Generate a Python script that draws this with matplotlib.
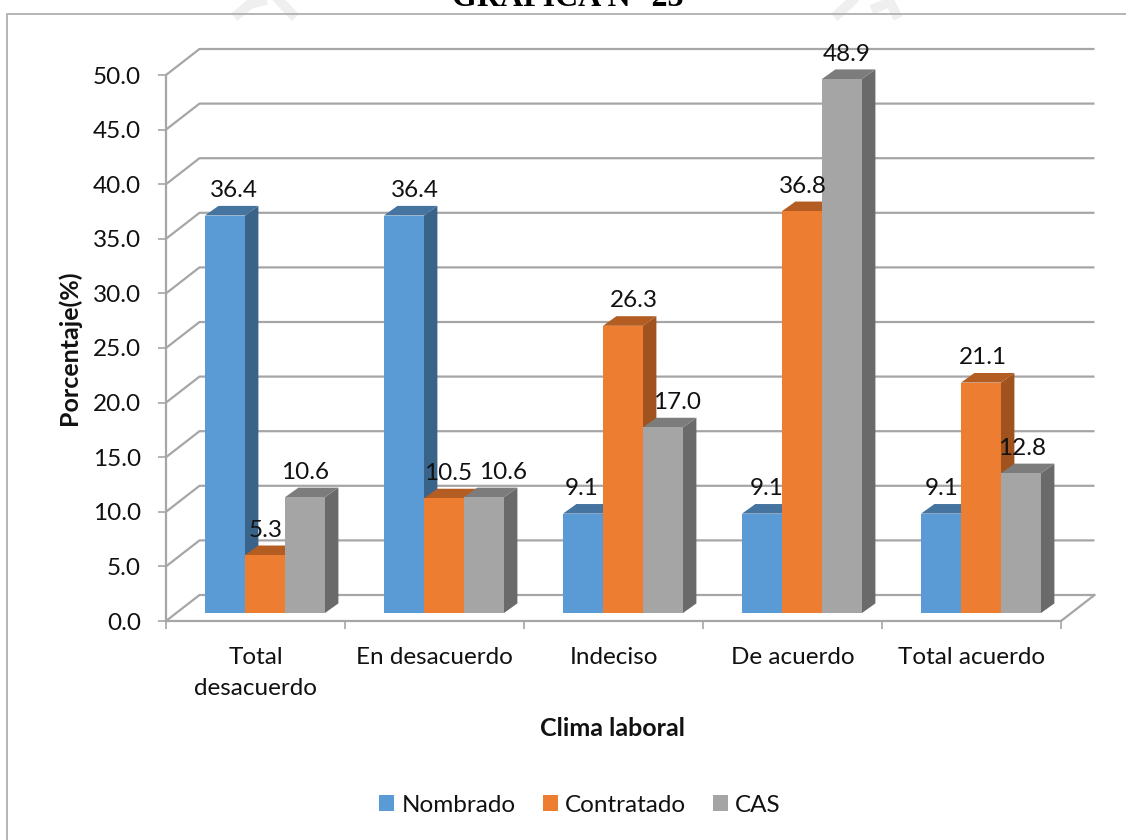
import matplotlib
matplotlib.use('Agg')
import matplotlib.pyplot as plt
from matplotlib.lines import Line2D
from matplotlib.patches import Patch, Polygon
from matplotlib.ticker import FormatStrFormatter
import numpy as np

categories = ['Total\ndesacuerdo', 'En desacuerdo', 'Indeciso', 'De acuerdo', 'Total acuerdo']
nombrado = [36.4, 36.4, 9.1, 9.1, 9.1]
contratado = [5.3, 10.5, 26.3, 36.8, 21.1]
cas = [10.6, 10.6, 17.0, 48.9, 12.8]
y_ticks = [0, 5, 10, 15, 20, 25, 30, 35, 40, 45, 50]

series = [
    ('Nombrado', nombrado, '#5B9BD5', '#44749F', '#3A6389'),
    ('Contratado', contratado, '#ED7D31', '#B35D23', '#A0531F'),
    ('CAS', cas, '#A5A5A5', '#7C7C7C', '#6A6A6A'),
]

# horizontal nudge of each value label, in pixels
label_nudge = [
    [9, 11, -1, 5, 1],
    [1, 4, 11, 1, 2],
    [0, 19, 14, 5, 1],
]

# faint stamp strokes behind the title, in pixels from the top-left corner
stamp_strokes = [
    [(238, 14), (250, 4), (262, 1)],
    [(279, 0), (292, 14)],
    [(838, 14), (852, 1)],
    [(876, 8), (890, 2), (896, 14)],
]

W, H = 1126, 840
GRID = '#A6A6A6'
FONT = 'Lato'
TEXT_SIZE = 17.5

# fake 3D depth, in data units (x: categories, y: percent)
WALL_DX, WALL_DY = 33.5 / 179, 26 / 10.92
BAR_DX, BAR_DY = 13.4 / 179, 9.6 / 10.92
BAR_W = 40 / 179
BAR_X0 = 39 / 179
BAR_LIFT = 8 / 10.92


def draw_walls(ax):
    n = len(categories)
    for v in y_ticks:
        ax.plot([0, WALL_DX, n + WALL_DX], [v, v + WALL_DY, v + WALL_DY],
                color=GRID, lw=1.6, clip_on=False, zorder=1, solid_capstyle='butt')
    ax.plot([n, n + WALL_DX], [0, WALL_DY], color=GRID, lw=1.6, clip_on=False, zorder=1)


def draw_bars(ax):
    for s, (name, values, front, top, side) in enumerate(series):
        x = np.arange(len(values)) + BAR_X0 + s * BAR_W
        z = 3 + s
        ax.bar(x, values, BAR_W, bottom=BAR_LIFT, align='edge', color=front,
               linewidth=0, zorder=z + 0.5, clip_on=False, label=name)
        for xi, v in zip(x, values):
            y0, y1 = BAR_LIFT, BAR_LIFT + v
            ax.add_patch(Polygon([(xi + BAR_W, y0), (xi + BAR_W + BAR_DX, y0 + BAR_DY),
                                  (xi + BAR_W + BAR_DX, y1 + BAR_DY), (xi + BAR_W, y1)],
                                 facecolor=side, linewidth=0, zorder=z, clip_on=False))
            ax.add_patch(Polygon([(xi, y1), (xi + BAR_DX, y1 + BAR_DY),
                                  (xi + BAR_W + BAR_DX, y1 + BAR_DY), (xi + BAR_W, y1)],
                                 facecolor=top, linewidth=0, zorder=z, clip_on=False))
        for xi, v, dx in zip(x, values, label_nudge[s]):
            ax.annotate(f'{v:.1f}', (xi + BAR_W / 2, BAR_LIFT + v),
                        xytext=(dx * 0.72, 25 * 0.72), textcoords='offset points',
                        ha='center', va='center', fontsize=TEXT_SIZE, family=FONT,
                        color='#111111', zorder=10, annotation_clip=False)


def main():
    fig = plt.figure(figsize=(W / 100, H / 100), dpi=100)
    ax = fig.add_axes([166 / W, 1 - 621 / H, (1061 - 166) / W, (621 - 75) / H])
    ax.set_xlim(0, len(categories))
    ax.set_ylim(0, 50)

    draw_walls(ax)
    draw_bars(ax)

    for name in ['top', 'right']:
        ax.spines[name].set_visible(False)
    for name in ['left', 'bottom']:
        ax.spines[name].set_color(GRID)
        ax.spines[name].set_linewidth(1.6)

    ax.set_yticks(y_ticks)
    ax.yaxis.set_major_formatter(FormatStrFormatter('%.1f'))
    ax.tick_params(axis='y', length=6, width=1.2, color=GRID, labelsize=TEXT_SIZE, pad=12, labelcolor='#111111')
    ax.set_xticks(np.arange(len(categories) + 1))
    ax.set_xticklabels([])
    ax.tick_params(axis='x', which='major', length=6, width=1.2, color=GRID)
    ax.set_xticks(np.arange(len(categories)) + 0.5, minor=True)
    ax.set_xticklabels(categories, minor=True, fontsize=TEXT_SIZE, family=FONT, color='#111111', linespacing=1.6)
    ax.tick_params(axis='x', which='minor', length=0, pad=18.5)
    for label in ax.get_yticklabels():
        label.set_family(FONT)

    fig.text(613 / W, 1 - 729 / H, 'Clima laboral', fontsize=18, family=FONT, weight='bold',
             ha='center', va='center', color='#111111')
    fig.text(69 / W, 1 - 348 / H, 'Porcentaje(%)', fontsize=18, family=FONT, weight='bold',
             ha='center', va='center', rotation=90, color='#111111')
    fig.text(568 / W, 1 + 2 / H, 'GRÁFICA N° 23', fontsize=23, family='Liberation Serif', weight='bold',
             ha='center', va='center', color='black', zorder=3)

    handles = [Patch(facecolor=s[2], linewidth=0, label=s[0]) for s in series]
    fig.legend(handles=handles, loc='center', bbox_to_anchor=(580 / W, 1 - 805 / H), ncol=3,
               frameon=False, prop={'family': FONT, 'size': TEXT_SIZE}, handlelength=0.62, handleheight=0.62,
               handletextpad=0.3, columnspacing=1.1, labelcolor='#111111')

    for stroke in stamp_strokes:
        xs = [p[0] / W for p in stroke]
        ys = [1 - p[1] / H for p in stroke]
        fig.add_artist(Line2D(xs, ys, color='#EFEFEF', lw=7, zorder=1))

    # page border of the chart box: only left and top edges are drawn
    fig.add_artist(Line2D([7 / W, 7 / W, 1], [0, 1 - 14 / H, 1 - 14 / H], color='#B5B5B5', lw=1.4, zorder=2))

    fig.savefig('out.png', dpi=100)


if __name__ == '__main__':
    main()
